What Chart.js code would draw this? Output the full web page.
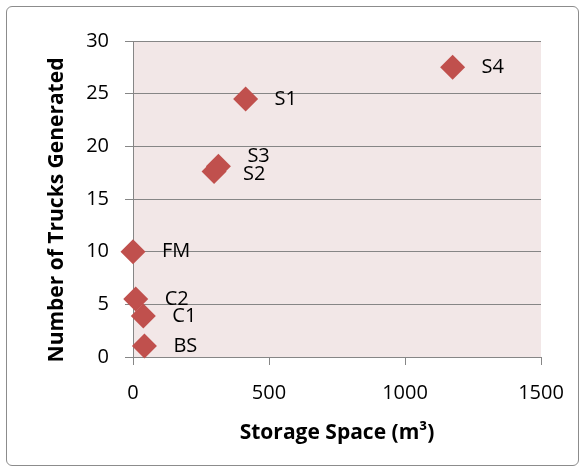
<!DOCTYPE html>
<html>
<head>
<meta charset="utf-8">
<script src="https://cdn.jsdelivr.net/npm/chart.js@4"></script>
<style>
  body { margin: 0; background: #fff; }
  #frame { position: absolute; left: 6px; top: 6px; width: 571px; height: 458px; border: 1px solid #8c8c8c; border-radius: 6px; }
  #wrap { position: absolute; left: 0; top: 0; width: 585px; height: 472px; }
</style>
</head>
<body>
<div id="frame"></div>
<div id="wrap"><canvas id="chart" width="585" height="472"></canvas></div>
<script>
// Sites and their values
const siteNames = ['S4', 'S1', 'S3', 'S2', 'FM', 'C2', 'C1', 'BS'];
const storageSpace = [1175, 414, 314, 298, 0, 10, 38, 42];
const trucksGenerated = [27.5, 24.5, 18.1, 17.6, 10, 5.5, 3.9, 1.05];
const labelShiftY = [0, 0, -10, 3, 0, 0, 0, 0];

const points = storageSpace.map((x, i) => ({ x: x, y: trucksGenerated[i] }));
const FONT = "'Open Sans', 'Liberation Sans', sans-serif";
const yTitle = 'Number of Trucks Generated';

// Pink plot area
const plotBackground = {
  id: 'plotBackground',
  beforeDraw(chart) {
    const { ctx, chartArea } = chart;
    ctx.save();
    ctx.fillStyle = '#f2e7e7';
    ctx.fillRect(chartArea.left, chartArea.top, chartArea.right - chartArea.left, chartArea.bottom - chartArea.top);
    ctx.restore();
  },
};

// Point labels to the right of each marker, plus the y title
const pointLabels = {
  id: 'pointLabels',
  afterDatasetsDraw(chart) {
    const ctx = chart.ctx;
    const meta = chart.getDatasetMeta(0);
    ctx.save();
    ctx.font = '20px ' + FONT;
    ctx.fillStyle = '#000';
    ctx.textAlign = 'left';
    ctx.textBaseline = 'middle';
    meta.data.forEach((el, i) => {
      ctx.fillText(siteNames[i], el.x + 29, el.y + labelShiftY[i]);
    });
    ctx.restore();

    //Y title sits a bit lower than the plot centre
    ctx.save();
    ctx.translate(57, chart.chartArea.top + (chart.chartArea.bottom - chart.chartArea.top) / 2 + 11);
    ctx.rotate(-Math.PI / 2);
    ctx.font = 'bold 21px ' + FONT;
    ctx.fillStyle = '#000';
    ctx.textAlign = 'center';
    ctx.textBaseline = 'middle';
    ctx.fillText(yTitle, 0, 0);
    ctx.restore();
  },
};

const ctx = document.getElementById('chart').getContext('2d');
/* global Chart */
new Chart(ctx, {
  type: 'scatter',
  data: {
    datasets: [{
      data: points,
      pointStyle: 'rectRot',
      pointRadius: 12.5,
      pointHoverRadius: 12.5,
      backgroundColor: '#c0504d',
      borderColor: '#c0504d',
      borderWidth: 0,
      clip: false,
    }],
  },
  options: {
    responsive: false,
    animation: false,
    events: [],
    layout: { padding: { left: 38, right: 44, top: 41, bottom: 14 } },
    plugins: { legend: { display: false }, tooltip: { enabled: false } },
    scales: {
      x: {
        type: 'linear',
        min: 0,
        max: 1500,
        afterFit(scale) { scale.height = 101; },
        ticks: {
          stepSize: 500,
          padding: 16,
          color: '#000',
          font: { family: FONT, size: 20 },
          callback: (v) => String(v),
        },
        grid: { drawOnChartArea: false, drawTicks: true, tickLength: 8, color: '#868686' },
        border: { display: true, color: '#868686' },
        title: {
          display: true,
          text: 'Storage Space (m³)',
          color: '#000',
          font: { family: FONT, size: 21, weight: 'bold' },
          padding: { top: 4, bottom: 12 },
        },
      },
      y: {
        min: 0,
        max: 30,
        afterFit(scale) { scale.width = 95; },
        ticks: { stepSize: 5, padding: 16, color: '#000', font: { family: FONT, size: 20 } },
        grid: { drawTicks: true, tickLength: 8, color: '#868686' },
        border: { display: true, color: '#868686' },
      },
    },
  },
  plugins: [plotBackground, pointLabels],
});
</script>
</body>
</html>
